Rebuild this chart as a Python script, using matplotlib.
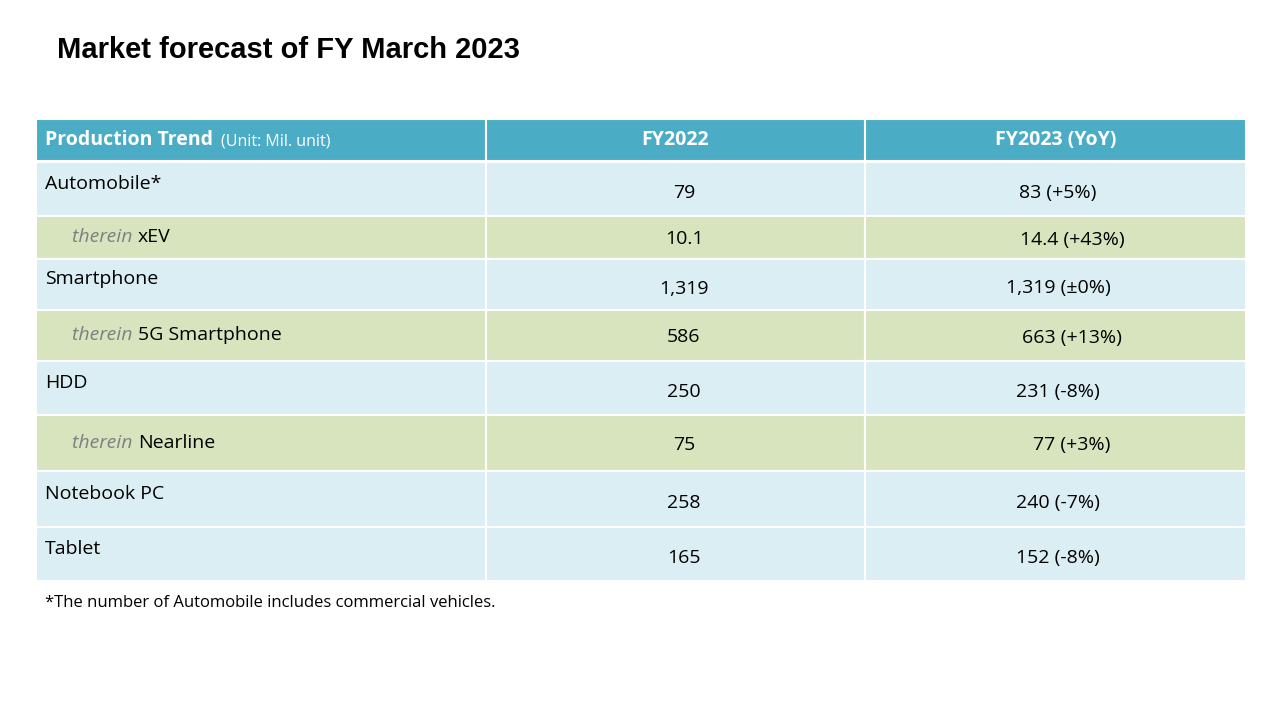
import matplotlib
matplotlib.use("Agg")
import matplotlib.pyplot as plt
from matplotlib.patches import Rectangle

title = "Market forecast of FY March 2023"
headers = ["FY2022", "FY2023 (YoY)"]
categories = ["Automobile*", "xEV", "Smartphone", "5G Smartphone", "HDD", "Nearline", "Notebook PC", "Tablet"]
sub_rows = [False, True, False, True, False, True, False, True]
sub_rows = [False, True, False, True, False, True, False, False]
fy2022 = ["79", "10.1", "1,319", "586", "250", "75", "258", "165"]
fy2023 = ["83 (+5%)", "14.4 (+43%)", "1,319 (\u00b10%)", "663 (+13%)", "231 (-8%)", "77 (+3%)", "240 (-7%)", "152 (-8%)"]
footnote = "*The number of Automobile includes commercial vehicles."

W, H = 1281, 720
fig = plt.figure(figsize=(W/100, H/100), dpi=100)
ax = fig.add_axes([0, 0, 1, 1])
ax.set_xlim(0, W); ax.set_ylim(H, 0); ax.axis("off")

FONT = "Open Sans"
HDR = "#4BACC6"; BLUE = "#DAEEF3"; GREEN = "#D7E4BD"
x0, x1, x2, x3 = 36, 486, 865, 1246
row_edges = [(119, 161), (162, 216), (216, 259), (259, 310), (310, 361), (361, 415), (415, 471), (471, 527), (527, 581)]

def cell(xa, xb, ya, yb, c):
    ax.add_patch(Rectangle((xa, ya), xb - xa, yb - ya, facecolor=c, edgecolor="white", linewidth=1.5))

ya, yb = row_edges[0]
for xa, xb in [(x0, x1), (x1, x2), (x2, x3)]:
    cell(xa, xb, ya, yb, HDR)
ym = (ya + yb) / 2
ax.text(45, ym, "Production Trend", color="white", fontsize=14, fontweight="bold", family=FONT, va="center")
ax.text(221, ym + 1, "(Unit: Mil. unit)", color="white", fontsize=11.5, family=FONT, va="center")
ax.text((x1 + x2) / 2, ym, headers[0], color="white", fontsize=14, fontweight="bold", family=FONT, va="center", ha="center")
ax.text((x2 + x3) / 2, ym, headers[1], color="white", fontsize=14, fontweight="bold", family=FONT, va="center", ha="center")

for i, (cat, sub, a, b) in enumerate(zip(categories, sub_rows, fy2022, fy2023)):
    ya, yb = row_edges[i + 1]
    c = GREEN if sub else BLUE
    for xa, xb in [(x0, x1), (x1, x2), (x2, x3)]:
        cell(xa, xb, ya, yb, c)
    ym = (ya + yb) / 2
    if sub:
        t = ax.text(72, ym, "therein ", color="#7F7F7F", fontsize=14, style="italic", family=FONT, va="center")
        ax.annotate(cat, xycoords=t, xy=(1, 0.5), va="center", fontsize=14, family=FONT, color="black")
        ax.text(684, ym + 2, a, fontsize=14, family=FONT, va="center", ha="center")
        ax.text(1072, ym + 2, b, fontsize=14, family=FONT, va="center", ha="center")
    else:
        ax.text(45, ym - 5, cat, fontsize=14, family=FONT, va="center")
        ax.text(684, ym + 4, a, fontsize=14, family=FONT, va="center", ha="center")
        ax.text(1058, ym + 4, b, fontsize=14, family=FONT, va="center", ha="center")

ax.text(57, 50, title, fontsize=21, fontweight="bold", family="Liberation Sans", va="center")
ax.text(45, 603, footnote, fontsize=12, family=FONT, va="center")
fig.savefig("out.png", dpi=100)
